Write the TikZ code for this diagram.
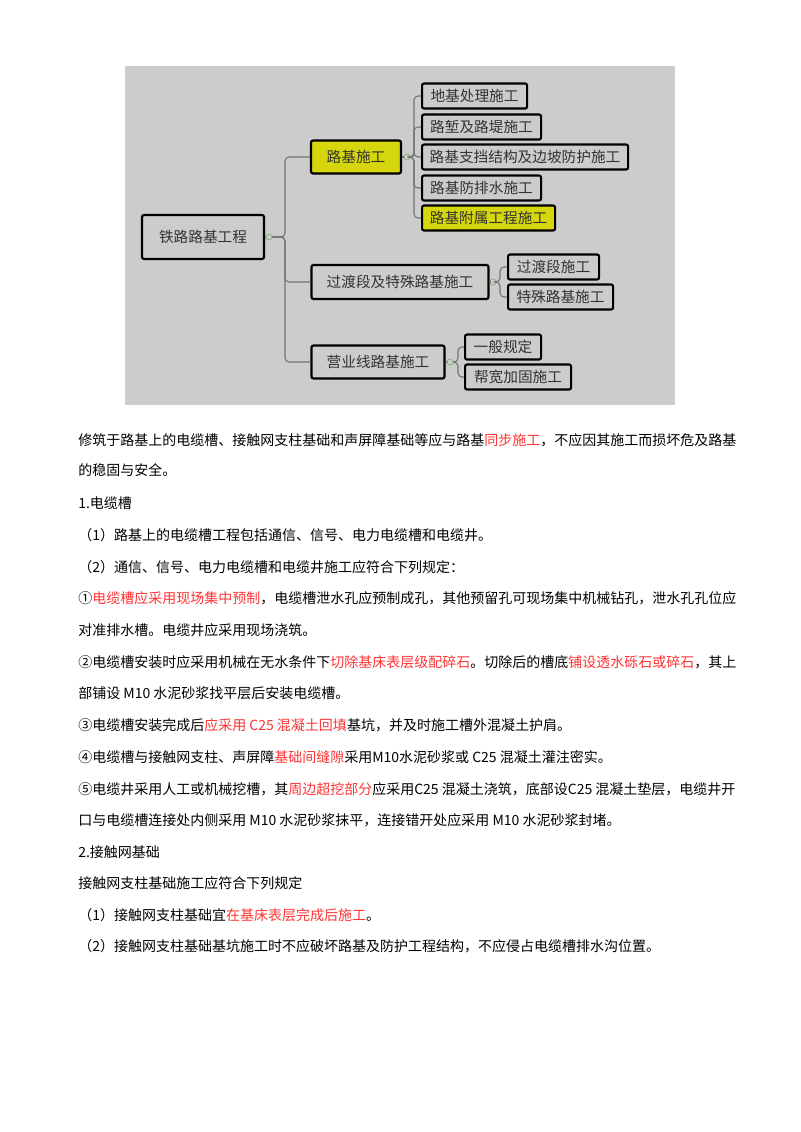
\documentclass[tikz,border=0pt]{standalone}
\usepackage{fontspec}
\setmainfont{Noto Sans CJK SC}
\usetikzlibrary{positioning}
\newlength{\pu}
\setlength{\pu}{0.75pt}
\definecolor{mapgrey}{rgb}{0.80,0.80,0.80}
\definecolor{mapyellow}{rgb}{0.84,0.84,0.05}
\definecolor{hubgreen}{rgb}{0.55,0.70,0.50}
\definecolor{notered}{rgb}{1.00,0.20,0.20}
\newcommand{\hl}[1]{\textcolor{notered}{#1}}
\tikzset{
  box/.style={draw=black, line width=1.6pt, rounded corners=1.5pt, fill=mapgrey,
    font=\fontsize{11pt}{13pt}\selectfont, text=black!80, inner sep=0pt},
  leaf/.style={box, anchor=west, minimum height=25\pu},
  hub/.style={circle, draw=hubgreen, fill=mapgrey, line width=0.6pt, inner sep=0pt, minimum size=6\pu},
  branch/.style={draw=black!55, line width=0.8pt, rounded corners=4\pu},
  txt/.style={anchor=west, inner sep=0pt, font=\fontsize{10.5pt}{12pt}\selectfont}
}
\begin{document}
\begin{tikzpicture}[x=\pu, y=-\pu]
\useasboundingbox (0,0) rectangle (800,1132);
% mind map
\fill[mapgrey] (125,66) rectangle (675,405);
\node[box, minimum width=122\pu, minimum height=44\pu] (root) at (203,237) {铁路路基工程};
\node[hub] (rhub) at (269,237) {};
\node[box, fill=mapyellow, minimum width=90\pu, minimum height=33\pu] (lj) at (356,157) {路基施工};
\node[box, minimum width=177\pu, minimum height=34\pu] (gd) at (400,282) {过渡段及特殊路基施工};
\node[box, minimum width=133\pu, minimum height=33\pu] (yy) at (378,362) {营业线路基施工};
\draw[branch] (root) -- (rhub);
\foreach \n in {lj,gd,yy}
  \draw[branch] (rhub.east) -- (285,237) |- (\n.west);

\node[hub] (ljhub) at (407,157) {};
\node[leaf, minimum width=105\pu] (lj1) at (421,96) {地基处理施工};
\node[leaf, minimum width=119\pu] (lj2) at (421,127) {路堑及路堤施工};
\node[leaf, minimum width=206\pu] (lj3) at (421,157) {路基支挡结构及边坡防护施工};
\node[leaf, minimum width=119\pu] (lj4) at (421,188) {路基防排水施工};
\node[leaf, fill=mapyellow, minimum width=133\pu] (lj5) at (421,218) {路基附属工程施工};
\draw[branch] (lj) -- (ljhub);
\foreach \n in {lj1,lj2,lj3,lj4,lj5}
  \draw[branch] (ljhub.east) -- (414,157) |- (\n.west);

\node[hub] (gdhub) at (493,282) {};
\node[leaf, minimum width=91\pu] (gd1) at (507,267) {过渡段施工};
\node[leaf, minimum width=105\pu] (gd2) at (507,297) {特殊路基施工};
\draw[branch] (gd) -- (gdhub);
\foreach \n in {gd1,gd2}
  \draw[branch] (gdhub.east) -- (500,282) |- (\n.west);

\node[hub] (yyhub) at (450,362) {};
\node[leaf, minimum width=76\pu] (yy1) at (464,347) {一般规定};
\node[leaf, minimum width=106\pu] (yy2) at (464,377) {帮宽加固施工};
\draw[branch] (yy) -- (yyhub);
\foreach \n in {yy1,yy2}
  \draw[branch] (yyhub.east) -- (458,362) |- (\n.west);

% text
\node[txt] (t1) at (78,440) {修筑于路基上的电缆槽、接触网支柱基础和声屏障基础等应与路基\hl{同步施工}，不应因其施工而损坏危及路基};
\node[txt] (t2) at (78,470) {的稳固与安全。};
\node[txt] (t3) at (78,503) {1.电缆槽};
\node[txt] (t4) at (78,535) {（1）路基上的电缆槽工程包括通信、信号、电力电缆槽和电缆井。};
\node[txt] (t5) at (78,567) {（2）通信、信号、电力电缆槽和电缆井施工应符合下列规定：};
\node[txt] (t6) at (78,598) {①\hl{电缆槽应采用现场集中预制}，电缆槽泄水孔应预制成孔，其他预留孔可现场集中机械钻孔，泄水孔孔位应};
\node[txt] (t7) at (78,630) {对准排水槽。电缆井应采用现场浇筑。};
\node[txt] (t8) at (78,662) {②电缆槽安装时应采用机械在无水条件下\hl{切除基床表层级配碎石}。切除后的槽底\hl{铺设透水砾石或碎石}，其上};
\node[txt] (t9) at (78,693) {部铺设 M10 水泥砂浆找平层后安装电缆槽。};
\node[txt] (t10) at (78,725) {③电缆槽安装完成后\hl{应采用 C25 混凝土回填}基坑，并及时施工槽外混凝土护肩。};
\node[txt] (t11) at (78,757) {④电缆槽与接触网支柱、声屏障\hl{基础间缝隙}采用M10水泥砂浆或 C25 混凝土灌注密实。};
\node[txt] (t12) at (78,789) {⑤电缆井采用人工或机械挖槽，其\hl{周边超挖部分}应采用C25 混凝土浇筑，底部设C25 混凝土垫层，电缆井开};
\node[txt] (t13) at (78,820) {口与电缆槽连接处内侧采用 M10 水泥砂浆抹平，连接错开处应采用 M10 水泥砂浆封堵。};
\node[txt] (t14) at (78,852) {2.接触网基础};
\node[txt] (t15) at (78,883) {接触网支柱基础施工应符合下列规定};
\node[txt] (t16) at (78,915) {（1）接触网支柱基础宜\hl{在基床表层完成后施工}。};
\node[txt] (t17) at (78,946) {（2）接触网支柱基础基坑施工时不应破坏路基及防护工程结构，不应侵占电缆槽排水沟位置。};
\end{tikzpicture}
\end{document}
